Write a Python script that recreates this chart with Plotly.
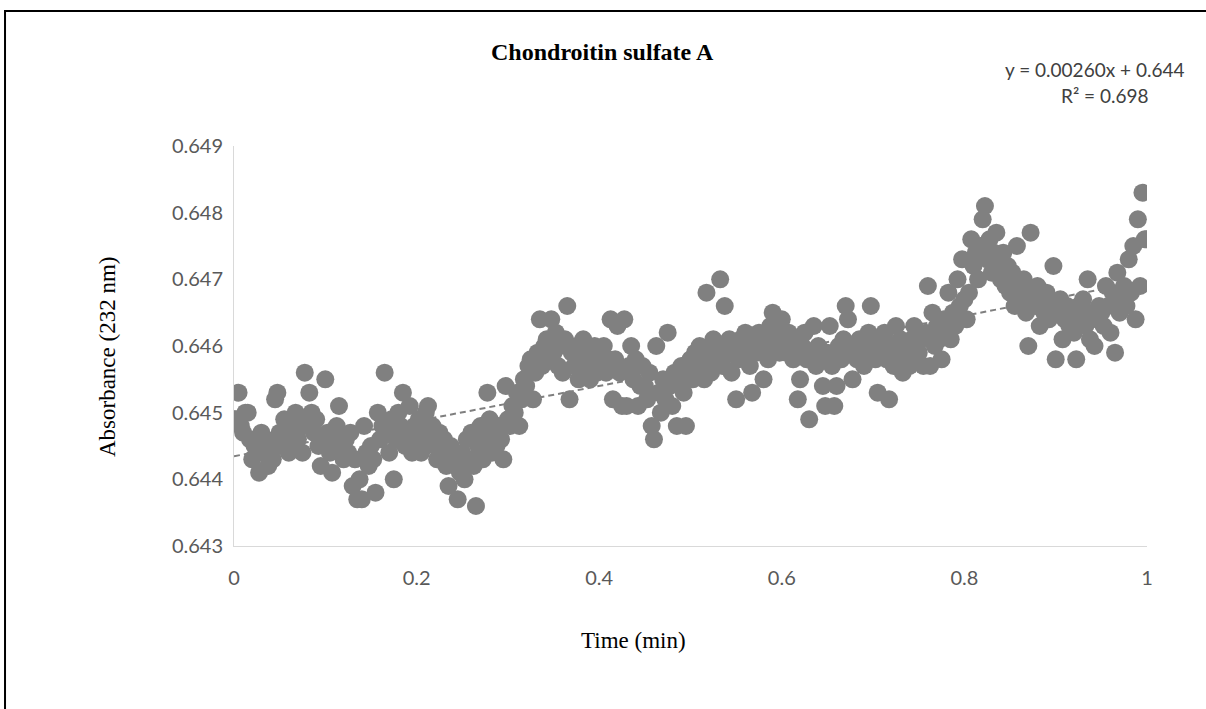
import numpy as np
import plotly.graph_objects as go

# absorbance readings at 232 nm, evenly spaced over one minute
absorbance = [
    0.6449, 0.6449, 0.6453, 0.6448, 0.6447, 0.6450, 0.6450, 0.6446, 0.6443, 0.6445,
    0.6444, 0.6441, 0.6447, 0.6444, 0.6446, 0.6442, 0.6445, 0.6443, 0.6452, 0.6453,
    0.6447, 0.6445, 0.6449, 0.6446, 0.6444, 0.6448, 0.6447, 0.6450, 0.6446, 0.6449,
    0.6444, 0.6456, 0.6448, 0.6453, 0.6450, 0.6447, 0.6449, 0.6445, 0.6442, 0.6446,
    0.6455, 0.6447, 0.6444, 0.6441, 0.6446, 0.6448, 0.6451, 0.6445, 0.6443, 0.6446,
    0.6444, 0.6447, 0.6439, 0.6443, 0.6437, 0.6440, 0.6437, 0.6448, 0.6444, 0.6442,
    0.6445, 0.6443, 0.6438, 0.6450, 0.6446, 0.6448, 0.6456, 0.6447, 0.6444, 0.6449,
    0.6440, 0.6446, 0.6450, 0.6448, 0.6453, 0.6445, 0.6447, 0.6451, 0.6444, 0.6448,
    0.6446, 0.6449, 0.6444, 0.6447, 0.6450, 0.6451, 0.6446, 0.6448, 0.6445, 0.6443,
    0.6447, 0.6444, 0.6446, 0.6442, 0.6439, 0.6445, 0.6443, 0.6442, 0.6437, 0.6441,
    0.6444, 0.6440, 0.6446, 0.6443, 0.6447, 0.6442, 0.6436, 0.6445, 0.6448, 0.6443,
    0.6446, 0.6453, 0.6449, 0.6444, 0.6447, 0.6445, 0.6448, 0.6446, 0.6443, 0.6454,
    0.6449, 0.6448, 0.6451, 0.6450, 0.6453, 0.6448, 0.6452, 0.6455, 0.6454, 0.6457,
    0.6458, 0.6452, 0.6456, 0.6459, 0.6464, 0.6457, 0.6460, 0.6461, 0.6458, 0.6464,
    0.6459, 0.6462, 0.6457, 0.6460, 0.6456, 0.6461, 0.6466, 0.6452, 0.6459, 0.6457,
    0.6460, 0.6455, 0.6459, 0.6461, 0.6457, 0.6460, 0.6455, 0.6458, 0.6460, 0.6456,
    0.6459, 0.6457, 0.6460, 0.6456, 0.6458, 0.6464, 0.6452, 0.6458, 0.6463, 0.6456,
    0.6451, 0.6464, 0.6451, 0.6457, 0.6460, 0.6455, 0.6458, 0.6451, 0.6454, 0.6457,
    0.6454, 0.6452, 0.6456, 0.6448, 0.6446, 0.6460, 0.6453, 0.6450, 0.6455, 0.6452,
    0.6462, 0.6454, 0.6451, 0.6456, 0.6448, 0.6455, 0.6457, 0.6453, 0.6448, 0.6456,
    0.6458, 0.6455, 0.6459, 0.6456, 0.6460, 0.6457, 0.6455, 0.6468, 0.6459, 0.6456,
    0.6461, 0.6458, 0.6460, 0.6470, 0.6457, 0.6466, 0.6459, 0.6461, 0.6456, 0.6460,
    0.6452, 0.6458, 0.6461, 0.6459, 0.6462, 0.6460, 0.6457, 0.6453, 0.6461, 0.6459,
    0.6462, 0.6460, 0.6455, 0.6461, 0.6458, 0.6463, 0.6465, 0.6460, 0.6462, 0.6459,
    0.6464, 0.6461, 0.6459, 0.6462, 0.6460, 0.6458, 0.6461, 0.6452, 0.6455, 0.6460,
    0.6462, 0.6458, 0.6449, 0.6459, 0.6463, 0.6457, 0.6460, 0.6458, 0.6454, 0.6451,
    0.6459, 0.6463, 0.6457, 0.6451, 0.6454, 0.6460, 0.6458, 0.6461, 0.6466, 0.6464,
    0.6459, 0.6455, 0.6460, 0.6458, 0.6461, 0.6459, 0.6457, 0.6460, 0.6462, 0.6466,
    0.6460, 0.6458, 0.6453, 0.6461, 0.6459, 0.6462, 0.6458, 0.6452, 0.6460, 0.6457,
    0.6463, 0.6459, 0.6461, 0.6456, 0.6458, 0.6460, 0.6457, 0.6461, 0.6463, 0.6460,
    0.6459, 0.6461, 0.6457, 0.6462, 0.6469, 0.6457, 0.6465, 0.6460, 0.6463, 0.6461,
    0.6458, 0.6464, 0.6462, 0.6468, 0.6461, 0.6465, 0.6463, 0.6470, 0.6466, 0.6473,
    0.6467, 0.6464, 0.6468, 0.6476, 0.6472, 0.6474, 0.6470, 0.6475, 0.6479, 0.6481,
    0.6473, 0.6476, 0.6471, 0.6474, 0.6477, 0.6472, 0.6470, 0.6474, 0.6469, 0.6472,
    0.6468, 0.6471, 0.6466, 0.6475, 0.6469, 0.6467, 0.6470, 0.6465, 0.6460, 0.6477,
    0.6468, 0.6466, 0.6469, 0.6463, 0.6467, 0.6465, 0.6468, 0.6464, 0.6466, 0.6472,
    0.6458, 0.6465, 0.6467, 0.6461, 0.6464, 0.6466, 0.6463, 0.6465, 0.6462, 0.6458,
    0.6466, 0.6464, 0.6467, 0.6463, 0.6470, 0.6461, 0.6465, 0.6460, 0.6464, 0.6466,
    0.6465, 0.6463, 0.6469, 0.6466, 0.6462, 0.6468, 0.6459, 0.6471, 0.6465, 0.6467,
    0.6469, 0.6466, 0.6473, 0.6468, 0.6475, 0.6464, 0.6479, 0.6469, 0.6483, 0.6476,
    0.6476,
]
time_min = np.linspace(0, 1, len(absorbance))

x_ticks = [0, 0.2, 0.4, 0.6, 0.8, 1]
x_ticktext = ['0', '0.2', '0.4', '0.6', '0.8', '1']
y_ticks = [0.643, 0.644, 0.645, 0.646, 0.647, 0.648, 0.649]
y_ticktext = ['0.643', '0.644', '0.645', '0.646', '0.647', '0.648', '0.649']

# linear trendline
slope, intercept = np.polyfit(time_min, absorbance, 1)
trend_x = np.array([0, 1])
trend_y = slope * trend_x + intercept

fig = go.Figure()

fig.add_trace(go.Scatter(
    x=trend_x, y=trend_y, mode='lines',
    line=dict(color='#7f7f7f', width=2, dash='6px,4px'),
    showlegend=False, hoverinfo='skip',
))

fig.add_trace(go.Scatter(
    x=time_min, y=absorbance, mode='markers',
    marker=dict(color='#808080', size=18, line=dict(width=0)),
    showlegend=False,
))

sans = 'Lato, Noto Sans, sans-serif'
serif = 'Liberation Serif, Times New Roman, serif'
tick_font = dict(family=sans, size=20, color='#595959')


def label(text, x, y, size, family, color='black', angle=0):
    return dict(text=text, x=x, y=y, xref='paper', yref='paper',
                xanchor='center', yanchor='middle', showarrow=False,
                textangle=angle, align='center',
                font=dict(family=family, size=size, color=color))


fig.update_layout(
    width=1206, height=709,
    margin=dict(l=234, r=59, t=146, b=163),
    plot_bgcolor='white', paper_bgcolor='white',
    xaxis=dict(range=[0, 1], tickvals=x_ticks, ticktext=x_ticktext,
               showgrid=False, zeroline=False, showline=True,
               linecolor='#d9d9d9', linewidth=1, tickfont=tick_font,
               ticks='', ticklabelstandoff=14),
    yaxis=dict(range=[0.643, 0.649], tickvals=y_ticks, ticktext=y_ticktext,
               showgrid=False, zeroline=False, showline=True,
               linecolor='#d9d9d9', linewidth=1, tickfont=tick_font,
               ticks='', ticklabelstandoff=6),
    shapes=[dict(type='rect', xref='paper', yref='paper',
                 x0=-0.2508, x1=1.08, y0=-0.43, y1=1.3375,
                 line=dict(color='black', width=2), layer='below')],
    annotations=[
        label('<b>Chondroitin sulfate A</b>', 0.404, 1.235, 24, serif),
        label('y = 0.00260x + 0.644', 0.942, 1.1925, 19, sans, '#404040'),
        label('R² = 0.698', 0.954, 1.1275, 19, sans, '#404040'),
        label('Time (min)', 0.438, -0.235, 23, serif),
        label('Absorbance (232 nm)', -0.139, 0.4725, 23, serif, angle=-90),
    ],
)

# drop the browser's default body margin so the chart sits at the page corner
fig.write_html("out.html", config={'displayModeBar': False},
               post_script="document.body.style.margin='0';")
